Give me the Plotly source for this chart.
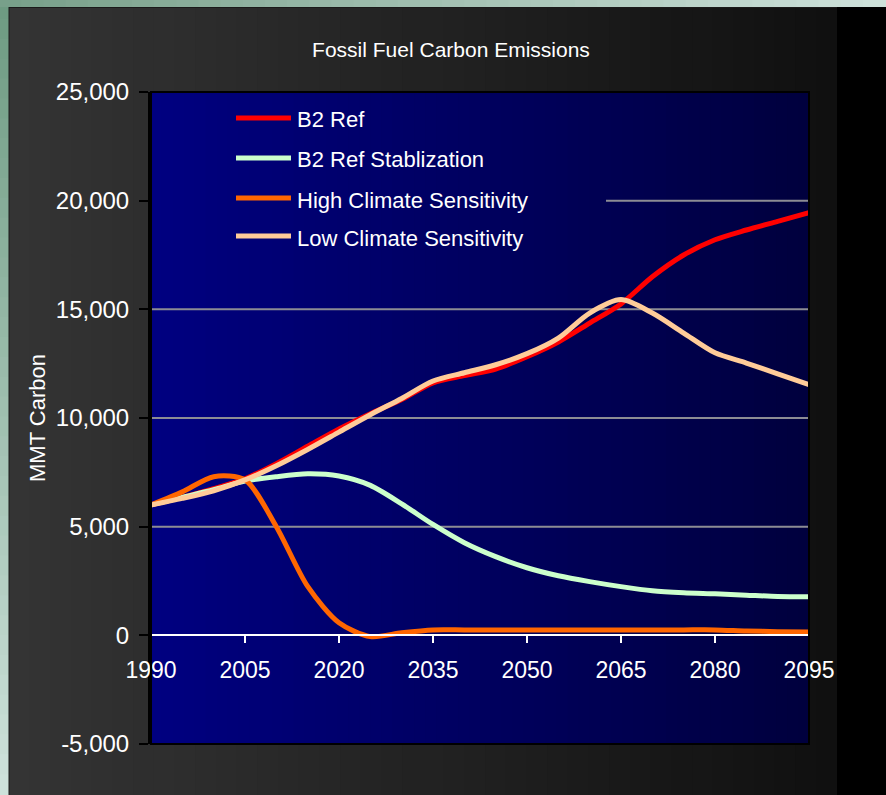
import plotly.graph_objects as go

# ---- data -----------------------------------------------------------------
years = [1990, 1995, 2000, 2005, 2010, 2015, 2020, 2025, 2030, 2035, 2040,
         2045, 2050, 2055, 2060, 2065, 2070, 2075, 2080, 2085, 2090, 2095]

b2_ref = [6000, 6350, 6750, 7200, 7900, 8700, 9500, 10200, 10850, 11620, 11950,
          12250, 12820, 13500, 14370, 15250, 16500, 17500, 18200, 18650, 19050, 19450]

b2_stab = [6000, 6350, 6700, 7100, 7300, 7430, 7330, 6900, 6050, 5100, 4260,
           3620, 3110, 2740, 2470, 2240, 2050, 1960, 1910, 1850, 1790, 1780]

high_cs = [6000, 6600, 7300, 7150, 5000, 2250, 580, -60, 120, 250, 250,
           250, 250, 250, 250, 250, 250, 250, 250, 200, 170, 150]

low_cs = [6000, 6300, 6650, 7150, 7800, 8550, 9350, 10150, 10900, 11700, 12080,
          12450, 12960, 13680, 14830, 15450, 14830, 13910, 13000, 12530, 12030, 11530]

series_names = ["B2 Ref", "B2 Ref Stablization",
                "High Climate Sensitivity", "Low Climate Sensitivity"]
series_values = [b2_ref, b2_stab, high_cs, low_cs]
series_colors = ["#ff0000", "#ccffcc", "#ff6600", "#ffcc99"]

x_ticks = [1990, 2005, 2020, 2035, 2050, 2065, 2080, 2095]
y_ticks = [-5000, 0, 5000, 10000, 15000, 20000, 25000]
y_tick_labels = ["-5,000", "0", "5,000", "10,000", "15,000", "20,000", "25,000"]
grid_values = [5000, 10000, 15000, 20000]

# ---- page geometry ----------------------------------------------------------
W, H = 886, 795
L, R, T, B = 151, 809, 92, 744          # plot area in pixels
X_MIN, X_MAX = 1990, 2095
Y_MIN, Y_MAX = -5000, 25000
FONT = "Liberation Sans"


def px_x(p):
    return (p - L) / (R - L)


def px_y(p):
    return (B - p) / (B - T)


def mix(c0, c1, t):
    return "rgb(%d,%d,%d)" % tuple(round(a + (b - a) * t) for a, b in zip(c0, c1))


shapes = []

# slide frame: green edge strips
n = 40
for i in range(n):
    t = i / (n - 1)
    shapes.append(dict(type="rect", xref="paper", yref="paper", layer="below",
                       x0=px_x(0), x1=px_x(9), y0=px_y(i * H / n - 1), y1=px_y((i + 1) * H / n + 1),
                       fillcolor=mix((110, 155, 130), (205, 225, 218), t), line_width=0))
    shapes.append(dict(type="rect", xref="paper", yref="paper", layer="below",
                       x0=px_x(i * W / n - 1), x1=px_x((i + 1) * W / n + 1), y0=px_y(0), y1=px_y(7),
                       fillcolor=mix((120, 160, 138), (205, 225, 218), t), line_width=0))

# dark chart panel with a horizontal gradient
n = 40
for i in range(n):
    x0 = 9 + (837 - 9) * i / n
    x1 = min(837, 9 + (837 - 9) * (i + 1) / n + 1)
    shapes.append(dict(type="rect", xref="paper", yref="paper", layer="below",
                       x0=px_x(x0), x1=px_x(x1), y0=px_y(7), y1=px_y(H + 2),
                       fillcolor=mix((52, 52, 52), (16, 16, 16), i / (n - 1)), line_width=0))
shapes.append(dict(type="line", xref="paper", yref="paper", layer="below",
                   x0=px_x(9), x1=px_x(837), y0=px_y(7.5), y1=px_y(7.5),
                   line=dict(color="#1a1a1a", width=1)))
shapes.append(dict(type="line", xref="paper", yref="paper", layer="below",
                   x0=px_x(9), x1=px_x(9), y0=px_y(7), y1=px_y(H + 2),
                   line=dict(color="#1a1a1a", width=1)))

# navy plot area gradient
n = 60
for i in range(n):
    shapes.append(dict(type="rect", xref="paper", yref="paper", layer="below",
                       x0=i / n, x1=min(1, (i + 1) / n + 0.002), y0=0, y1=1,
                       fillcolor=mix((0, 0, 128), (0, 0, 62), i / (n - 1)), line_width=0))

# horizontal gridlines (the top one stops where the legend box ends)
for g in grid_values:
    shapes.append(dict(type="line", xref="paper", yref="y", layer="below",
                       x0=px_x(606) if g == 20000 else 0, x1=1, y0=g, y1=g,
                       line=dict(color="#8c8c94", width=2)))

# plot area outline
shapes.append(dict(type="rect", xref="paper", yref="paper", layer="above",
                   x0=0, x1=1, y0=0, y1=1, line=dict(color="#000000", width=2)))

fig = go.Figure()
for name, vals, col in zip(series_names, series_values, series_colors):
    fig.add_trace(go.Scatter(x=years, y=vals, name=name, mode="lines",
                             line=dict(color=col, width=5, shape="spline", smoothing=0.8),
                             showlegend=False))

# legend drawn inside the plot area
annotations = []
leg_y = [118, 158, 198, 236]
for name, col, yy in zip(series_names, series_colors, leg_y):
    shapes.append(dict(type="line", xref="paper", yref="paper", layer="above",
                       x0=px_x(236), x1=px_x(291), y0=px_y(yy), y1=px_y(yy),
                       line=dict(color=col, width=5)))
    annotations.append(dict(text=name, xref="paper", yref="paper", showarrow=False,
                            x=px_x(295), y=px_y(yy + 2), xanchor="left", yanchor="middle",
                            font=dict(family=FONT, size=22, color="#ffffff")))

zero_pos = (0 - Y_MIN) / (Y_MAX - Y_MIN)

fig.update_layout(
    width=W, height=H,
    margin=dict(l=L, r=W - R, t=T, b=H - B, autoexpand=False),
    paper_bgcolor="#000000",
    plot_bgcolor="#000080",
    title=dict(text="Fossil Fuel Carbon Emissions", x=451 / W, xref="container",
               xanchor="center", y=1 - 50 / H, yref="container", yanchor="middle",
               font=dict(family=FONT, size=21, color="#ffffff")),
    shapes=shapes,
    annotations=annotations,
    showlegend=False,
    xaxis=dict(range=[X_MIN, X_MAX], tickvals=x_ticks, ticktext=[str(v) for v in x_ticks],
               anchor="free", position=zero_pos,
               showline=True, linecolor="#ffffff", linewidth=2,
               ticks="outside", tickcolor="#ffffff", ticklen=7, tickwidth=2,
               ticklabelstandoff=7,
               tickfont=dict(family=FONT, size=23, color="#ffffff"),
               showgrid=False, zeroline=False, fixedrange=True),
    yaxis=dict(range=[Y_MIN, Y_MAX], tickvals=y_ticks, ticktext=y_tick_labels,
               showline=True, linecolor="#000000", linewidth=3,
               ticks="outside", tickcolor="#000000", ticklen=9, tickwidth=2,
               ticklabelstandoff=5,
               tickfont=dict(family=FONT, size=24, color="#ffffff"),
               title=dict(text="MMT Carbon", standoff=5,
                          font=dict(family=FONT, size=22, color="#ffffff")),
               showgrid=False, zeroline=False, fixedrange=True),
)

fig.write_html("out.html")
